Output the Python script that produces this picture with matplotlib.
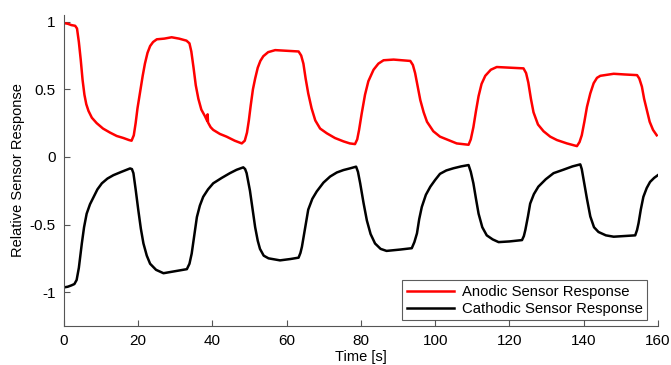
import matplotlib
matplotlib.use('Agg')
import matplotlib.pyplot as plt

plt.rcParams['font.family'] = ['Liberation Sans', 'DejaVu Sans']

# anodic response
t_an = [0, 1, 2, 3, 3.5, 4.0, 4.5, 5.0, 5.5, 6.0, 6.6, 7.5, 8.8, 10.5, 12.4, 14.2, 16, 17.5, 18.2,
        18.8, 19.3, 19.8, 20.5, 21.2, 21.8, 22.5, 23.2, 24.0, 25, 27, 29, 31, 33, 33.8, 34.3, 34.9,
        35.5, 36.2, 37.0, 38.0, 38.6, 38.7, 38.8, 39.5, 40.2, 42, 43.8, 46, 47.9,
        48.7, 49.3, 49.8, 50.3, 50.9, 51.5, 52.2, 52.9, 53.7, 55, 56.9, 60, 63.2, 63.9, 64.5,
        65.1, 65.8, 66.7, 67.7, 69, 70.8, 73, 75.3, 77, 78.4,
        79.0, 79.5, 80.2, 81.1, 82.0, 83.4, 84.7, 86.1, 88.8, 91, 93.3, 94.0, 94.6, 95.3, 96,
        96.9, 97.8, 99.5, 101.3, 104, 105.8, 107.5, 109,
        109.6, 110.3, 111, 111.7, 112.5, 113.5, 115, 116.6, 120, 123.8, 124.5, 125.1, 125.8,
        126.5, 127.7, 129.2, 131, 132.8, 135.5, 138.2,
        138.9, 139.5, 140.2, 140.9, 141.8, 142.7, 143.6, 144.5, 148.1, 151, 154.4, 155.0, 155.7,
        156.3, 157, 157.8, 158.7, 159.7]
v_an = [0.99, 0.985, 0.975, 0.97, 0.95, 0.85, 0.72, 0.57, 0.46, 0.39, 0.34, 0.29, 0.25, 0.21, 0.18, 0.155, 0.14, 0.125, 0.12,
        0.16, 0.25, 0.36, 0.48, 0.60, 0.69, 0.77, 0.82, 0.85, 0.87, 0.875, 0.885, 0.875, 0.86, 0.84, 0.78, 0.66,
        0.53, 0.43, 0.35, 0.30, 0.265, 0.315, 0.255, 0.22, 0.20, 0.17, 0.15, 0.12, 0.10,
        0.12, 0.18, 0.27, 0.38, 0.50, 0.58, 0.66, 0.71, 0.745, 0.775, 0.79, 0.785, 0.78, 0.75, 0.69,
        0.58, 0.47, 0.36, 0.27, 0.21, 0.175, 0.14, 0.115, 0.10, 0.095,
        0.13, 0.20, 0.32, 0.46, 0.56, 0.645, 0.69, 0.715, 0.72, 0.715, 0.71, 0.68, 0.62, 0.52, 0.42,
        0.33, 0.26, 0.19, 0.15, 0.12, 0.10, 0.095, 0.09,
        0.13, 0.22, 0.34, 0.45, 0.54, 0.60, 0.645, 0.665, 0.66, 0.655, 0.62, 0.55, 0.43,
        0.33, 0.24, 0.19, 0.15, 0.125, 0.10, 0.08,
        0.11, 0.16, 0.26, 0.37, 0.47, 0.545, 0.585, 0.60, 0.615, 0.61, 0.605, 0.58, 0.52,
        0.43, 0.35, 0.26, 0.20, 0.16]

# cathodic response
t_ca = [0, 1, 2, 2.8, 3.4, 4.0, 4.4, 4.8, 5.4, 6.1, 7.0, 7.9, 9.0, 10.2, 11.7, 13.3, 15.5, 17.8,
        18.3, 18.7, 19.3, 20.0, 20.7, 21.4, 22.3, 23.2, 24.8, 26.8, 30, 33.1, 33.8, 34.4, 35.1,
        35.8, 36.6, 37.5, 38.8, 40.2, 42.5, 44.7, 46.5, 48.3,
        48.8, 49.2, 50.1, 51, 51.5, 52.2, 52.8, 53.8, 55.1, 58.2, 61, 63.2, 63.7, 64.1, 65.0,
        65.8, 66.9, 68.1, 69.9, 71.7, 73.5, 75.3, 77, 78.7,
        79.2, 79.8, 80.7, 81.6, 82.6, 83.8, 85.3, 86.9, 88.8, 90.6, 93.7, 94.4, 95.1, 95.7,
        96.4, 97.5, 98.7, 100, 101.3, 103, 104.9, 107, 109,
        109.6, 110.3, 111, 111.7, 112.7, 113.9, 115.5, 117.1, 120, 123.4, 123.9, 124.3, 125.0,
        125.6, 126.6, 127.8, 129.8, 131.9, 134.5, 137, 139.1,
        139.5, 140, 140.9, 141.8, 142.8, 144, 146, 148.1, 151, 153.9, 154.4, 154.8, 155.4,
        156.1, 157, 157.9, 159, 160]
v_ca = [-0.965, -0.96, -0.95, -0.94, -0.91, -0.82, -0.73, -0.64, -0.52, -0.42, -0.35, -0.30, -0.24, -0.195, -0.16, -0.135, -0.11, -0.085,
        -0.09, -0.12, -0.24, -0.39, -0.53, -0.64, -0.73, -0.79, -0.835, -0.86, -0.845, -0.83, -0.79, -0.715, -0.58,
        -0.445, -0.36, -0.295, -0.24, -0.195, -0.155, -0.12, -0.095, -0.077,
        -0.09, -0.12, -0.25, -0.42, -0.52, -0.62, -0.68, -0.73, -0.75, -0.765, -0.755, -0.745, -0.71, -0.665, -0.52,
        -0.39, -0.31, -0.255, -0.19, -0.145, -0.115, -0.097, -0.085, -0.072,
        -0.11, -0.195, -0.34, -0.47, -0.57, -0.64, -0.68, -0.695, -0.69, -0.685, -0.675, -0.63, -0.565, -0.46,
        -0.37, -0.28, -0.22, -0.17, -0.125, -0.10, -0.084, -0.07, -0.06,
        -0.11, -0.195, -0.31, -0.42, -0.52, -0.58, -0.61, -0.63, -0.625, -0.615, -0.585, -0.54, -0.44,
        -0.345, -0.275, -0.22, -0.165, -0.12, -0.095, -0.07, -0.055,
        -0.09, -0.17, -0.31, -0.44, -0.52, -0.555, -0.58, -0.59, -0.585, -0.58, -0.54, -0.49, -0.39,
        -0.295, -0.23, -0.185, -0.155, -0.135]

xticks = [0, 20, 40, 60, 80, 100, 120, 140, 160]
yticks = [-1, -0.5, 0, 0.5, 1]
ytick_labels = ['-1', '-0.5', '0', '0.5', '1']

fig = plt.figure(figsize=(6.71, 3.65), dpi=100)
ax = fig.add_axes([0.0954, 0.107, 0.885, 0.852])

ax.plot(t_an, v_an, color='#ff0000', lw=1.8, label='Anodic Sensor Response')
ax.plot(t_ca, v_ca, color='black', lw=1.8, label='Cathodic Sensor Response')

ax.set_xlim(0, 160)
ax.set_ylim(-1.25, 1.05)
ax.set_xticks(xticks)
ax.set_yticks(yticks)
ax.set_yticklabels(ytick_labels)
ax.tick_params(direction='in', length=4, width=0.8, color='#555555', labelsize=11, pad=6)

for side in ['top', 'right']:
    ax.spines[side].set_visible(False)
for side in ['left', 'bottom']:
    ax.spines[side].set_color('#555555')
    ax.spines[side].set_linewidth(0.8)

ax.set_xlabel('Time [s]', fontsize=10.5, labelpad=1)
ax.set_ylabel('Relative Sensor Response', fontsize=10.5, labelpad=3)

leg = ax.legend(loc='lower right', bbox_to_anchor=(0.982, 0.018), fontsize=10.7, fancybox=False,
                handlelength=3.2, borderpad=0.3, labelspacing=0.2, handletextpad=0.5,
                borderaxespad=0)
leg.get_frame().set_edgecolor('#333333')
leg.get_frame().set_linewidth(0.8)

plt.savefig('out.png', dpi=100)
